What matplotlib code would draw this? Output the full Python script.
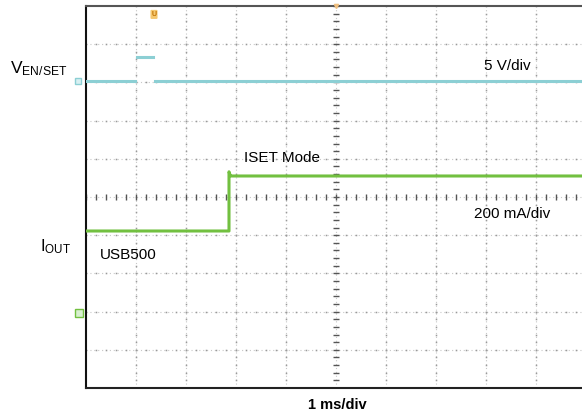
import numpy as np
import matplotlib
matplotlib.use("Agg")
import matplotlib.pyplot as plt

plt.rcParams['font.family'] = ['Liberation Sans', 'DejaVu Sans']
plt.rcParams['mathtext.fontset'] = 'custom'
plt.rcParams['mathtext.rm'] = 'Liberation Sans'
plt.rcParams['mathtext.it'] = 'Liberation Sans'

# ---- data (screen divisions: x 0..10 = 1 ms/div, y 0..10) ----
ven_t = [0.0, 0.98, np.nan, 1.02, 1.34, np.nan, 1.38, 10.0]
ven_v = [8.04, 8.04, np.nan, 8.66, 8.66, np.nan, 8.04, 8.04]
iout_t = [0.0, 2.86, 2.86, 2.88, 2.90, 10.0]
iout_v = [4.11, 4.11, 5.66, 5.58, 5.55, 5.55]
ven_ref = 8.04
iout_ref = 1.96
trigger_t = 1.36

W, H = 582, 412
fig = plt.figure(figsize=(W / 100, H / 100), dpi=100)
x0, x1, y0, y1 = 86, 586, 6, 388
ax = fig.add_axes([x0 / W, 1 - y1 / H, (x1 - x0) / W, (y1 - y0) / H])
ax.set_xlim(0, 10)
ax.set_ylim(0, 10)

# grid
for k in range(1, 10):
    ax.axvline(k, color='#c8c8c8', lw=0.8, ls=(0, (1, 2.5)), zorder=1)
    ax.axhline(k, color='#c8c8c8', lw=0.8, ls=(0, (1, 2.5)), zorder=1)
minor = np.arange(0, 10.01, 0.2)
for k in range(1, 10):
    if k == 5:
        continue
    ax.plot(minor, np.full_like(minor, k), ls='none', marker='s', ms=1.1,
            color='#9a9a9a', mew=0, zorder=2)
    ax.plot(np.full_like(minor, k), minor, ls='none', marker='s', ms=1.1,
            color='#9a9a9a', mew=0, zorder=2)
# center axes with ticks
ax.plot(minor, np.full_like(minor, 5), ls='none', marker='|', ms=5,
        color='#555555', mew=1.0, zorder=2)
ax.plot(np.full_like(minor, 5), minor, ls='none', marker='_', ms=5,
        color='#555555', mew=1.0, zorder=2)

# traces
ax.plot(ven_t, ven_v, color='#8ccfd4', lw=2.2, zorder=3)
ax.plot(iout_t, iout_v, color='#72c040', lw=2.2, zorder=3)

# spines
for s in ['right']:
    ax.spines[s].set_visible(False)
ax.spines['left'].set_color('#111111')
ax.spines['left'].set_linewidth(1.5)
ax.spines['bottom'].set_color('#222222')
ax.spines['bottom'].set_linewidth(1.5)
ax.spines['top'].set_color('#555555')
ax.spines['top'].set_linewidth(1.5)
ax.set_xticks([])
ax.set_yticks([])

# markers
ax.plot([-0.16], [ven_ref], marker='s', ms=5, mfc='#d8f0f2', mec='#8ccfd4',
        clip_on=False, zorder=4)
ax.plot([-0.14], [iout_ref], marker='s', ms=6, mfc='#d8f0d0', mec='#72c040',
        clip_on=False, zorder=4)
ax.text(trigger_t, 9.78, 'U', color='#c07000', fontsize=5, ha='center',
        va='center', fontweight='bold',
        bbox=dict(boxstyle='round,pad=0.15', fc='#f5c870', ec='none'))
ax.plot([5.0], [10.0], marker='v', ms=3, color='#f0c080', clip_on=False, zorder=4)

def px(x, y):
    return x / W, 1 - y / H

fig.text(*px(10, 73), r'$\mathregular{V_{EN/SET}}$', fontsize=12.5, va='baseline')
fig.text(*px(40, 251), r'$\mathregular{I_{OUT}}$', fontsize=12, va='baseline')
fig.text(*px(484, 70), '5 V/div', fontsize=11, va='baseline')
fig.text(*px(244, 162), 'ISET Mode', fontsize=11, va='baseline')
fig.text(*px(474, 218), '200 mA/div', fontsize=11, va='baseline')
fig.text(*px(100, 259), 'USB500', fontsize=11, va='baseline')
fig.text(*px(337, 409), '1 ms/div', fontsize=10.5, va='baseline', ha='center',
         fontweight='bold')

fig.savefig('out.png', dpi=100)
